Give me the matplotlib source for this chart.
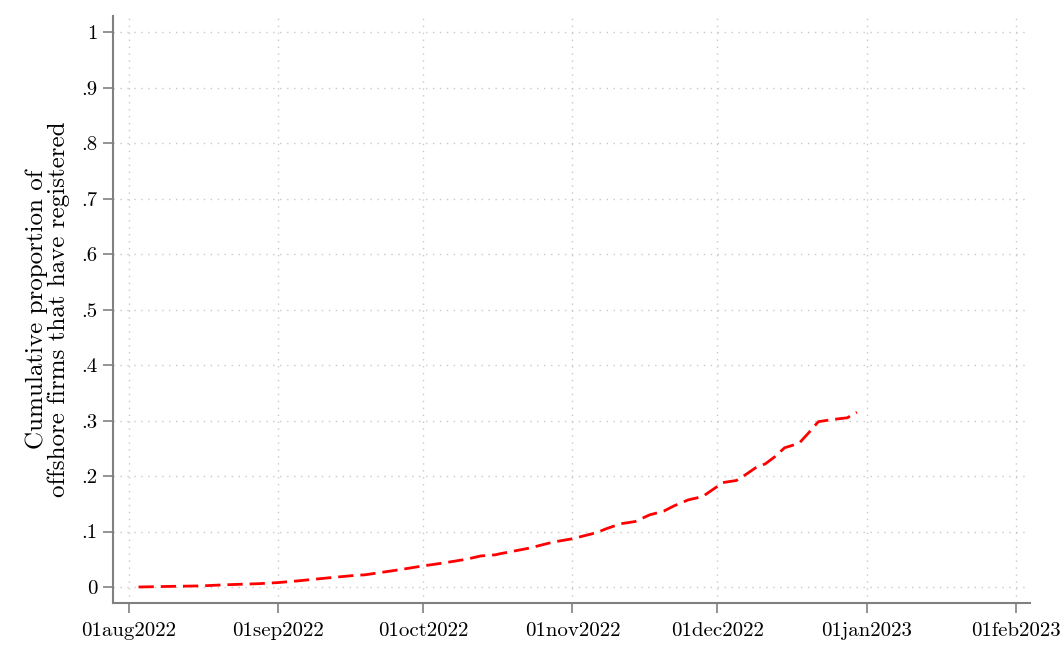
import numpy as np
import pandas as pd
import matplotlib
matplotlib.use("Agg")
import matplotlib.pyplot as plt
import matplotlib.dates as mdates

plt.rcParams['font.family'] = ['cmr10', 'DejaVu Serif']
plt.rcParams['mathtext.fontset'] = 'cm'
plt.rcParams['axes.unicode_minus'] = False
plt.rcParams['axes.formatter.use_mathtext'] = True

# cumulative share of offshore firms registered
dates = pd.to_datetime([
    "2022-08-03", "2022-08-09", "2022-08-16", "2022-08-21", "2022-08-28",
    "2022-09-01", "2022-09-05", "2022-09-12", "2022-09-17", "2022-09-19",
    "2022-09-26", "2022-10-01", "2022-10-05", "2022-10-10", "2022-10-13",
    "2022-10-16", "2022-10-17", "2022-10-23", "2022-10-28", "2022-11-01",
    "2022-11-06", "2022-11-08", "2022-11-11", "2022-11-14", "2022-11-17",
    "2022-11-20", "2022-11-22", "2022-11-25", "2022-11-28", "2022-12-01",
    "2022-12-02", "2022-12-05", "2022-12-07", "2022-12-09", "2022-12-11",
    "2022-12-13", "2022-12-15", "2022-12-18", "2022-12-20", "2022-12-22",
    "2022-12-25", "2022-12-28", "2022-12-30",
])
share = [
    0.000, 0.001, 0.002, 0.004, 0.006,
    0.008, 0.011, 0.017, 0.021, 0.022,
    0.031, 0.038, 0.043, 0.050, 0.056,
    0.058, 0.060, 0.070, 0.081, 0.087,
    0.098, 0.105, 0.114, 0.118, 0.130,
    0.137, 0.146, 0.157, 0.163, 0.181,
    0.188, 0.192, 0.203, 0.215, 0.222,
    0.235, 0.251, 0.259, 0.278, 0.298,
    0.302, 0.305, 0.315,
]

xtick_dates = pd.to_datetime(["2022-08-01", "2022-09-01", "2022-10-01", "2022-11-01",
                              "2022-12-01", "2023-01-01", "2023-02-01"])
xtick_labels = ["01aug2022", "01sep2022", "01oct2022", "01nov2022",
                "01dec2022", "01jan2023", "01feb2023"]
ytick_vals = [0, 0.1, 0.2, 0.3, 0.4, 0.5, 0.6, 0.7, 0.8, 0.9, 1.0]
ytick_labels = ["0", ".1", ".2", ".3", ".4", ".5", ".6", ".7", ".8", ".9", "1"]

fig = plt.figure(figsize=(10.6, 6.46), dpi=100)
ax = fig.add_axes([0.1066, 0.0666, 0.8651, 0.9084])

ax.plot(dates, share, color="red", lw=2.0, dashes=(5.5, 2.5))

ax.set_xlim(pd.Timestamp("2022-08-01") - pd.Timedelta(days=3.3),
            pd.Timestamp("2023-02-01") + pd.Timedelta(days=2.9))
ax.set_ylim(-0.0288, 1.029)

ax.set_xticks(xtick_dates)
ax.set_xticklabels(xtick_labels)
ax.set_yticks(ytick_vals)
ax.set_yticklabels(ytick_labels)

ax.grid(True, linestyle=(0, (1, 4)), color="#c8c8c8", lw=1.0)
for s in ["top", "right"]:
    ax.spines[s].set_visible(False)
for s in ["left", "bottom"]:
    ax.spines[s].set_color("#808080")
    ax.spines[s].set_linewidth(1.5)
ax.tick_params(axis="x", length=7, width=1.2, color="#808080", pad=7, labelsize=15)
ax.tick_params(axis="y", length=7, width=1.2, color="#808080", pad=4, labelsize=15)

ax.set_ylabel("Cumulative proportion of\noffshore firms that have registered",
              fontsize=18, linespacing=1.0, labelpad=8)

fig.savefig("out.png", dpi=100)
